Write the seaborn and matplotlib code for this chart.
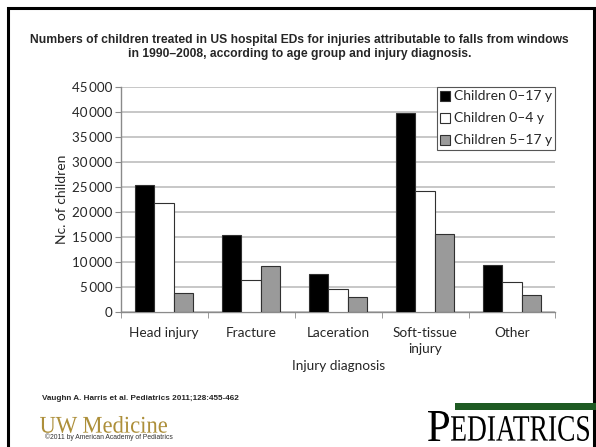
import numpy as np
import pandas as pd
import matplotlib.pyplot as plt
import seaborn as sns
from matplotlib.patches import Rectangle, Patch, PathPatch
from matplotlib.textpath import TextPath
from matplotlib.transforms import Affine2D
from matplotlib.font_manager import FontProperties

categories = ['Head injury', 'Fracture', 'Laceration', 'Soft-tissue\ninjury', 'Other']
series_names = ['Children 0\u201317 y', 'Children 0\u20134 y', 'Children 5\u201317 y']
all_ages = [25400, 15300, 7500, 39700, 9300]
young = [21700, 6300, 4500, 24100, 6000]
older = [3700, 9100, 2900, 15500, 3300]
y_ticks = list(range(0, 45001, 5000))

df = pd.DataFrame({
    'Diagnosis': categories * 3,
    'Group': [series_names[0]] * 5 + [series_names[1]] * 5 + [series_names[2]] * 5,
    'Count': all_ages + young + older,
})

sns.set_style('white')
plt.rcParams['font.family'] = ['Lato', 'DejaVu Sans']

palette = {series_names[0]: '#000000', series_names[1]: '#ffffff', series_names[2]: '#9a9a9a'}

W, H = 596, 447
fig = plt.figure(figsize=(W / 100, H / 100), dpi=100)
ax = fig.add_axes([0.2025, 0.3027, 0.7295, 0.5027])

sns.barplot(data=df, x='Diagnosis', y='Count', hue='Group', order=categories,
            hue_order=series_names, palette=palette, width=0.67, ax=ax,
            edgecolor='#303030', linewidth=0.8, legend=False, zorder=3)

ax.set_ylim(0, 45000)
ax.set_xlim(-0.5, 4.5)
ax.set_yticks(y_ticks)
ax.set_yticklabels([f'{v:,}'.replace(',', '\u2009') for v in y_ticks], fontsize=9.6)
ax.yaxis.grid(True, color='#bdbdbd', linewidth=1.2, zorder=0)
ax.set_axisbelow(True)
ax.tick_params(axis='y', direction='out', length=4, color='#8a8a8a', left=True, pad=2)

ax.set_xticks(range(5))
ax.set_xticklabels(categories, fontsize=9.8)
for lab in ax.get_xticklabels():
    lab.set_linespacing(1.45)
ax.set_xticks(np.arange(-0.5, 5, 1), minor=True)
ax.tick_params(axis='x', which='major', length=0, pad=11)
ax.tick_params(axis='x', which='minor', direction='out', length=4, color='#8a8a8a', bottom=True)

for s in ['top', 'right']:
    ax.spines[s].set_visible(False)
for s in ['left', 'bottom']:
    ax.spines[s].set_color('#8a8a8a')
    ax.spines[s].set_linewidth(1.0)

ax.set_xlabel('Injury diagnosis', fontsize=9.8, labelpad=3)
ax.set_ylabel('Nc. of children', fontsize=10, labelpad=3)

handles = [Patch(facecolor=palette[n], edgecolor='#303030', linewidth=0.8, label=n) for n in series_names]
leg = ax.legend(handles=handles, loc='upper right', bbox_to_anchor=(1.0, 1.0), fontsize=10,
                frameon=True, fancybox=False, edgecolor='#555555', framealpha=1,
                handlelength=0.75, handleheight=0.75, handletextpad=0.25,
                borderpad=0.25, labelspacing=0.72, borderaxespad=0)
leg.get_frame().set_linewidth(0.8)


def fit_text(s, x0, x1, y0, y1, color, family):
    # squeeze a text outline into a pixel box (y measured from the top)
    tp = TextPath((0, 0), s, size=10, prop=FontProperties(family=family))
    ext = tp.get_extents()
    tr = (Affine2D().translate(-ext.x0, -ext.y0)
          .scale((x1 - x0) / ext.width / W, (y1 - y0) / ext.height / H)
          .translate(x0 / W, 1 - y1 / H) + fig.transFigure)
    fig.add_artist(PathPatch(tp, transform=tr, facecolor=color, edgecolor='none'))


# slide frame and texts
fig.add_artist(Rectangle((8 / W, -0.1), (594 - 8) / W, 1.1 - 8 / H, transform=fig.transFigure,
                         fill=False, edgecolor='black', linewidth=2.2))
fig.text(0.503, 1 - 47 / H, 'Numbers of children treated in US hospital EDs for injuries attributable to falls from windows\nin 1990\u20132008, according to age group and injury diagnosis.',
         ha='center', va='center', fontsize=8.7, fontweight='bold', family='Liberation Sans', linespacing=1.15)
fig.text(42 / W, 1 - 398 / H, 'Vaughn A. Harris et al. Pediatrics 2011;128:455-462',
         ha='left', va='center', fontsize=5.9, fontweight='bold', family='Liberation Sans')
fit_text('UW Medicine', 40, 167, 416, 433, '#ad8f3a', 'Liberation Serif')
fig.text(45 / W, 1 - 437 / H, '\u00a92011 by American Academy of Pediatrics', ha='left', va='center',
         fontsize=4.9, family='Liberation Sans', color='#333333')
fig.add_artist(Rectangle((455 / W, 1 - 410 / H), 141 / W, 7 / H, transform=fig.transFigure,
                         facecolor='#1e5a23', edgecolor='none'))
fit_text('P', 428, 449, 411, 441, 'black', 'Liberation Serif')
fit_text('EDIATRICS', 451, 589, 416, 441, 'black', 'Liberation Serif')

fig.savefig('out.png', dpi=100)
